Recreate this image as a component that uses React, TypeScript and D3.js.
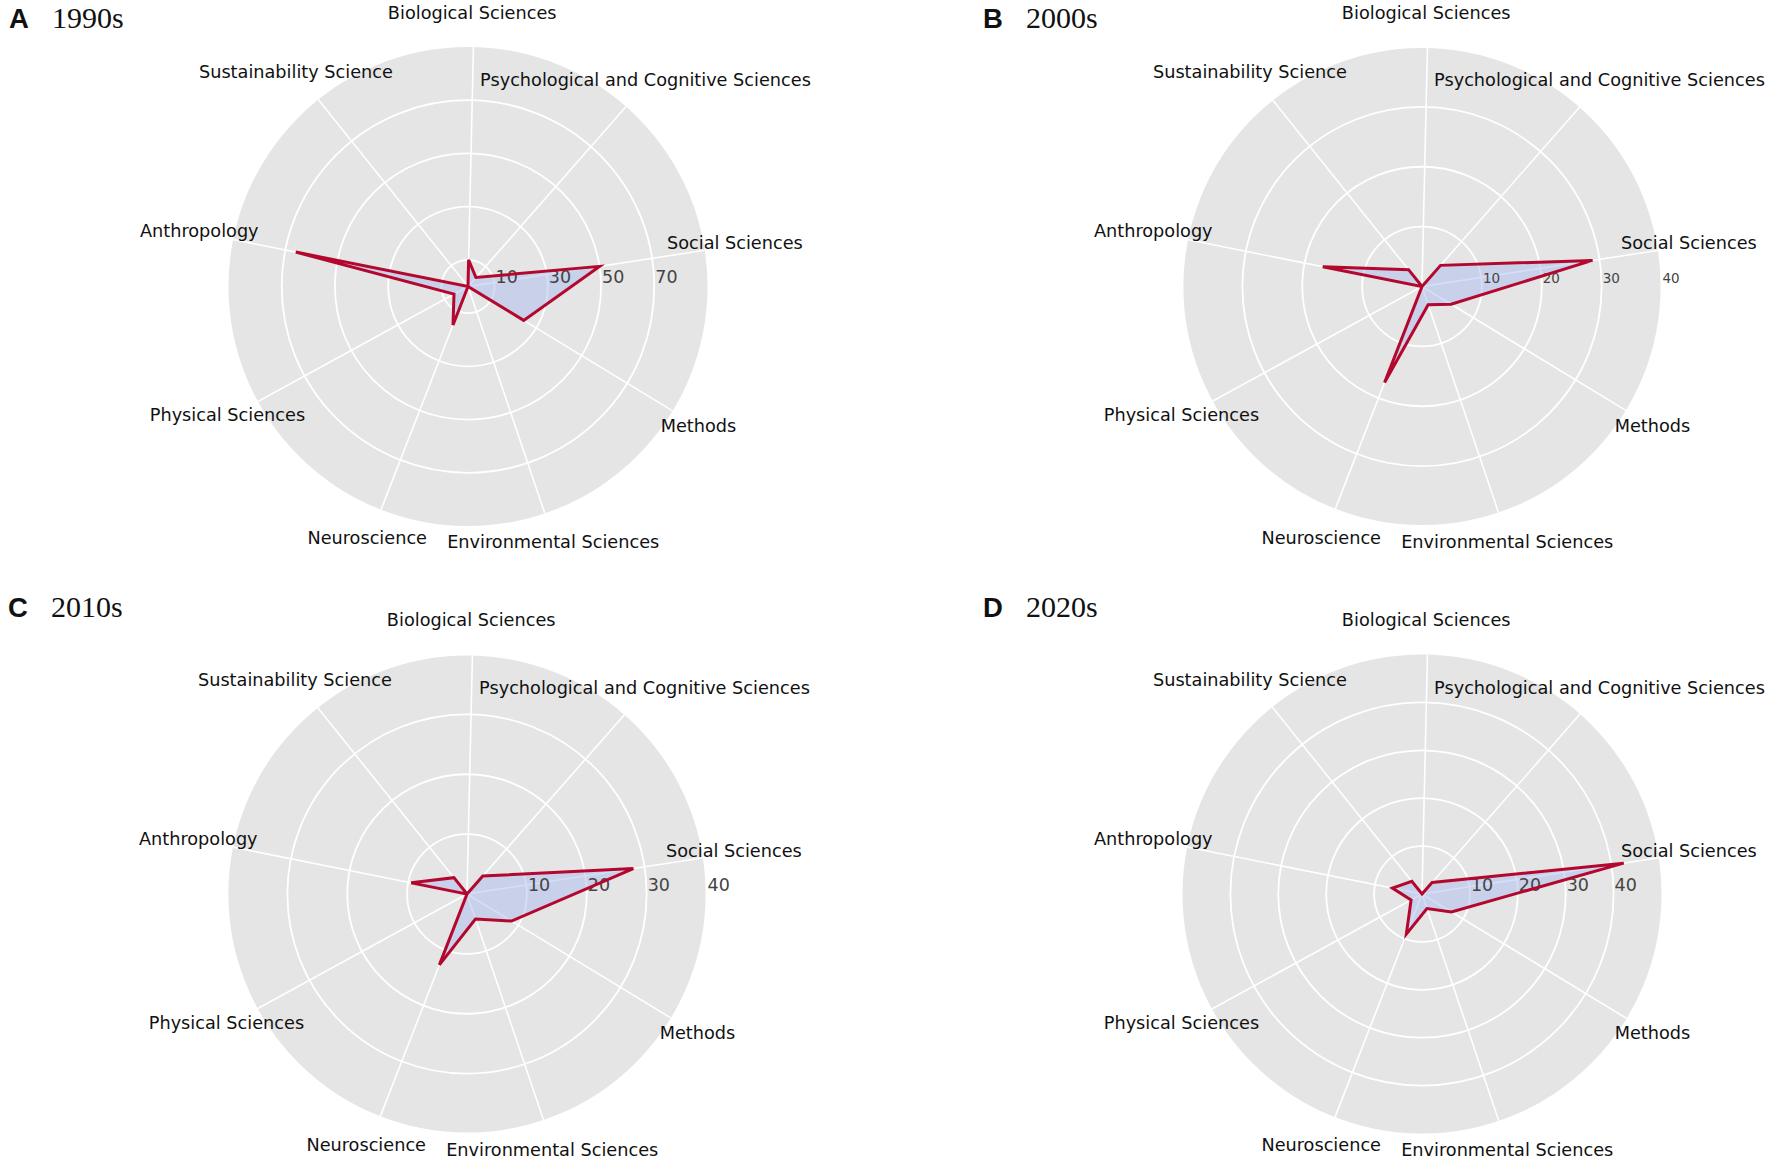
import * as d3 from 'd3';
import * as React from 'react';

// category order, clockwise from the top
const categories = [
  'Biological Sciences',
  'Psychological and Cognitive Sciences',
  'Social Sciences',
  'Methods',
  'Environmental Sciences',
  'Neuroscience',
  'Physical Sciences',
  'Anthropology',
  'Sustainability Science',
];

const values1990s = [10, 4.5, 50, 24.5, 0, 15.5, 6, 66, 0];
const values2000s = [0, 4.7, 28.8, 5.7, 3.2, 17.2, 0, 16.9, 3.6];
const values2010s = [0, 4, 28.1, 8.7, 4.4, 12.7, 0, 9.5, 3.5];
const values2020s = [0, 3.2, 42.6, 7.2, 3.2, 9, 2.6, 6.3, 3.4];

const ticks1990s = [10, 30, 50, 70];
const ticks2000s = [10, 20, 30, 40];
const ticks2010s = [10, 20, 30, 40];
const ticks2020s = [10, 20, 30, 40];

const panelLetters = ['A', 'B', 'C', 'D'];
const panelTitles = ['1990s', '2000s', '2010s', '2020s'];
const radialMax = [90, 40, 40, 50];

const W = 1772;
const H = 1161;
const R = 239.5;
const LABEL_R = 272;
const ROTATION = (1.3 * Math.PI) / 180; // the source plot sits a touch clockwise
const LINE_COLOR = '#b3072d';
const FILL_COLOR = 'rgb(171,187,239)';

const RadarPanel = (props) => {
  const { cx, cy, values, ticks, max, letter, title, titleX, titleY, tickSize } = props;

  const rScale = d3.scaleLinear().domain([0, max]).range([0, R]);
  const angle = d3
    .scaleLinear()
    .domain([0, categories.length])
    .range([ROTATION, 2 * Math.PI + ROTATION]);

  const radial = d3
    .lineRadial<number>()
    .angle((d, i) => angle(i))
    .radius((d) => rScale(d))
    .curve(d3.curveLinearClosed);

  return (
    <g>
      <text x={titleX} y={titleY} style={{ fontFamily: 'Liberation Sans, Arial, sans-serif', fontWeight: 'bold', fontSize: 27.5 }} fill="#111">
        {letter}
      </text>
      <text x={titleX + 43} y={titleY} style={{ fontFamily: 'Liberation Serif, Times New Roman, serif', fontSize: 30 }} fill="#111">
        {title}
      </text>

      <g transform={`translate(${cx},${cy})`}>
        <circle r={R} fill="#e5e5e5" />
        {ticks.map((t) => (
          <circle key={'ring' + t} r={rScale(t)} fill="none" stroke="#fff" strokeWidth={1.8} />
        ))}
        {categories.map((c, i) => (
          <line
            key={'spoke' + i}
            x1={0}
            y1={0}
            x2={R * Math.sin(angle(i))}
            y2={-R * Math.cos(angle(i))}
            stroke="#fff"
            strokeWidth={1.6}
          />
        ))}

        <path d={radial(values)} fill={FILL_COLOR} fillOpacity={0.5} stroke="none" />

        {ticks.map((t) => (
          <text
            key={'tick' + t}
            x={rScale(t) + 1}
            y={-3.5}
            style={{ fontFamily: 'DejaVu Sans, sans-serif', fontSize: tickSize }}
            fill="#444"
          >
            {t}
          </text>
        ))}

        <path d={radial(values)} fill="none" stroke={LINE_COLOR} strokeWidth={3} strokeLinejoin="miter" />

        {categories.map((c, i) => (
          <text
            key={'label' + i}
            x={LABEL_R * Math.sin(angle(i)) - 2}
            y={-LABEL_R * Math.cos(angle(i))}
            dy="0.23em"
            textAnchor="middle"
            style={{ fontFamily: 'DejaVu Sans, sans-serif', fontSize: 17.7 }}
            fill="#111"
          >
            {c}
          </text>
        ))}
      </g>
    </g>
  );
};

const App = () => {
  const series = [values1990s, values2000s, values2010s, values2020s];
  const tickSets = [ticks1990s, ticks2000s, ticks2010s, ticks2020s];
  const centers = [
    [468, 286.5],
    [1422, 286.5],
    [467, 894],
    [1422, 894],
  ];
  const titlePos = [
    [9, 27.5],
    [983, 27.5],
    [8, 617],
    [983, 617],
  ];
  const tickSizes = [17.5, 13.5, 17.5, 17.5];

  return (
    <svg width={W} height={H} style={{ position: 'absolute', left: 0, top: 0, background: '#fff' }}>
      {series.map((values, k) => (
        <RadarPanel
          key={k}
          cx={centers[k][0]}
          cy={centers[k][1]}
          values={values}
          ticks={tickSets[k]}
          max={radialMax[k]}
          letter={panelLetters[k]}
          title={panelTitles[k]}
          titleX={titlePos[k][0]}
          titleY={titlePos[k][1]}
          tickSize={tickSizes[k]}
        />
      ))}
    </svg>
  );
};

export default App;
